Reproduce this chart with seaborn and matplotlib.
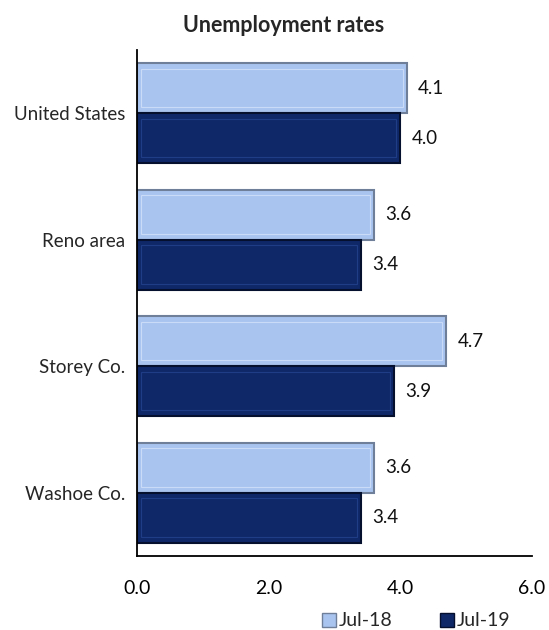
import numpy as np
import pandas as pd
import matplotlib.pyplot as plt
import seaborn as sns
from matplotlib.patches import Patch, Rectangle

# Chart values
areas = ['United States', 'Reno area', 'Storey Co.', 'Washoe Co.']
jul18 = [4.1, 3.6, 4.7, 3.6]
jul19 = [4.0, 3.4, 3.9, 3.4]
series = ['Jul-18', 'Jul-19']
x_ticks = [0, 2, 4, 6]

df = pd.DataFrame({
    'area': areas * 2,
    'rate': jul18 + jul19,
    'period': [series[0]] * len(areas) + [series[1]] * len(areas),
})

sns.set_style('white')
plt.rcParams['font.family'] = ['Lato', 'DejaVu Sans']

light = '#A9C4EF'
dark = '#0F2868'
light_edge = '#6F7F99'
dark_edge = '#050F2E'
palette = {series[0]: light, series[1]: dark}

fig = plt.figure(figsize=(5.49, 6.30), dpi=100)
ax = fig.add_axes([0.2495, 0.1175, 0.7195, 0.8035])

sns.barplot(data=df, y='area', x='rate', hue='period', order=areas,
            hue_order=series, palette=palette, orient='h', width=0.79,
            saturation=1, ax=ax, legend=False)

# edges plus a thin inner line to hint at the bevelled look
n = len(areas)
for i, patch in enumerate(ax.patches[:2 * n]):
    is_light = i < n
    patch.set_edgecolor(light_edge if is_light else dark_edge)
    patch.set_linewidth(1.5)
    x0, y0 = patch.get_x(), patch.get_y()
    w, h = patch.get_width(), patch.get_height()
    dx, dy = 0.06, 0.045
    ax.add_patch(Rectangle((x0 + dx, y0 + dy), w - 2 * dx, h - 2 * dy,
                           facecolor='none',
                           edgecolor='#C9DBF7' if is_light else '#1F3C86',
                           linewidth=0.8, zorder=patch.get_zorder() + 0.1))

# value labels
for cont in ax.containers:
    ax.bar_label(cont, fmt='%.1f', padding=8, fontsize=13.5, color='#111111')

ax.set_xlim(0, 6)
ax.set_ylim(3.5, -0.5)
ax.set_xticks(x_ticks)
ax.set_xticklabels([f'{v:.1f}' for v in x_ticks], fontsize=14)
ax.tick_params(axis='x', direction='inout', length=11, width=1.3, pad=12, colors='black')
ax.tick_params(axis='y', length=0, labelsize=13.5, pad=8.5)
ax.set_xlabel('')
ax.set_ylabel('')

for side in ['top', 'right']:
    ax.spines[side].set_visible(False)
for side in ['left', 'bottom']:
    ax.spines[side].set_color('black')
    ax.spines[side].set_linewidth(1.3)

fig.text(0.517, 0.959, 'Unemployment rates', fontsize=15.5, fontweight='bold',
         ha='center', va='center')

handles = [Patch(facecolor=light, edgecolor=light_edge),
           Patch(facecolor=dark, edgecolor=dark_edge)]
fig.legend(handles, series, loc='center', bbox_to_anchor=(0.758, 0.0143),
           ncol=2, frameon=False, fontsize=14, handlelength=0.75,
           handleheight=0.75, handletextpad=0.15, columnspacing=2.4,
           borderpad=0, borderaxespad=0)

fig.savefig('out.png', dpi=100)
